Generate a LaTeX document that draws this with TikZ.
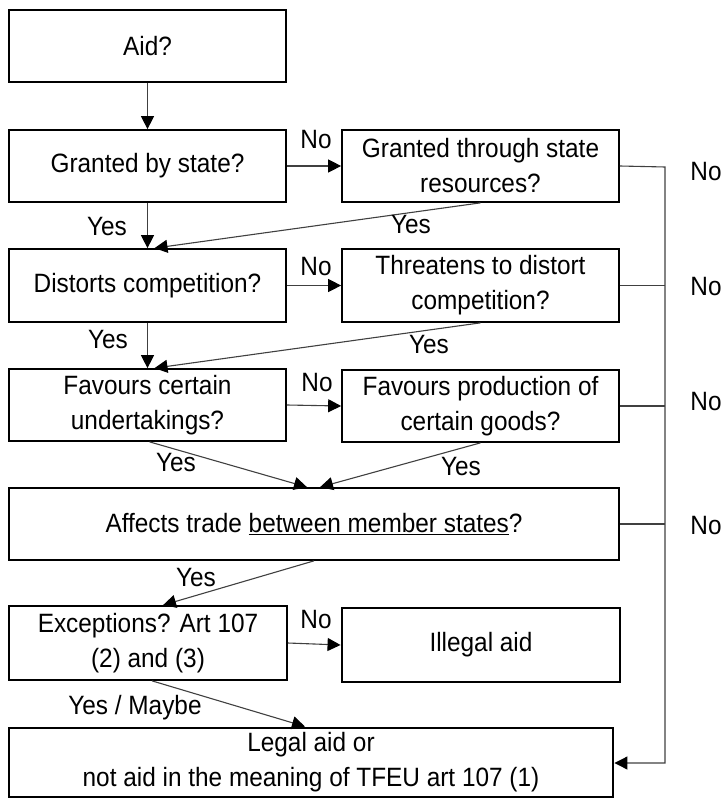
\documentclass[tikz,border=0pt]{standalone}
\usepackage{fontspec}
\setmainfont[FakeStretch=0.92]{Liberation Sans}
\usetikzlibrary{arrows.meta,calc}
\begin{document}
\begin{tikzpicture}[x=1pt,y=-1pt,
  every node/.style={font=\fontsize{26.5}{35}\selectfont},
  box/.style={draw=black,line width=1.7pt,rectangle,inner sep=0pt,align=center,minimum width=277pt,minimum height=72pt},
  thickbox/.style={box,line width=2.9pt},
  conn/.style={draw=black!75,line width=1.1pt,-{Triangle[length=13pt,width=13pt,color=black]}},
  plain/.style={draw=black!75,line width=1.1pt},
  lbl/.style={inner sep=0pt}]
\useasboundingbox (0,0) rectangle (724,799);
% boxes
\node[box] (aid) at (147.5,46) {Aid?};
\node[box] (gs) at (147.5,166) {Granted by state?};
\node[box] (gr) at (480.5,166) {Granted through state\\resources?};
\node[box,minimum height=73pt] (dc) at (147.5,285.5) {Distorts competition?};
\node[box,minimum height=73pt] (tc) at (480.5,285.5) {Threatens to distort\\competition?};
\node[box] (fu) at (147.5,405) {Favours certain\\undertakings?};
\node[box] (fp) at (480.5,406) {Favours production of\\certain goods?};
\node[box,minimum width=610pt] (at) at (314,524) {Affects trade \underline{between member states}?};
\node[box,minimum width=278pt,minimum height=74pt] (ex) at (148,643) {Exceptions? Art 107\\(2) and (3)};
\node[thickbox,minimum width=278pt,minimum height=74pt] (il) at (481,645) {Illegal aid};
\node[thickbox,minimum width=604pt,minimum height=69pt] (la) at (311,762.5) {Legal aid or\\not aid in the meaning of TFEU art 107 (1)};
% bus coordinates
\coordinate (busT) at (665,167);
\coordinate (busB) at (665,763);
% vertical flow
\draw[conn] (aid) -- (gs);
\draw[conn] (gs) -- (dc);
\draw[conn] (dc) -- (fu);
% No arrows
\draw[conn] (gs.east) -- (gr.west);
\draw[conn] (dc.east) -- (tc.west);
\draw[conn] (fu.east) -- (fp.west);
\draw[conn] (ex.east) -- (il.west);
% diagonal Yes arrows
\draw[conn] (gr.south) -- ([xshift=7pt]dc.north);
\draw[conn] (tc.south) -- ([xshift=7pt]fu.north);
\draw[conn] ([xshift=2pt]fu.south) -- ([xshift=-7pt]at.north);
\draw[conn] (fp.south) -- ([xshift=6pt]at.north);
\draw[conn] (at.south) -- ([xshift=15pt]ex.north);
\draw[conn] ([xshift=4pt]ex.south) -- ([xshift=-6pt]la.north);
% right bus
\draw[conn] (gr.east) -- (busT) -- (busB) -- (la.east |- busB);
\draw[plain] (tc.east) -- (tc.east -| busT);
\draw[plain] (fp.east) -- (fp.east -| busT);
\draw[plain] (at.east) -- (at.east -| busT);
% labels
\node[lbl] (l1) at (316,140) {No};
\node[lbl] (l2) at (316,267) {No};
\node[lbl] (l3) at (317,383) {No};
\node[lbl] (l4) at (316,620) {No};
\node[lbl] (r1) at (706,172) {No};
\node[lbl] (r2) at (706,287) {No};
\node[lbl] (r3) at (706,402) {No};
\node[lbl] (r4) at (706,526) {No};
\node[lbl] (y1) at (107,227) {Yes};
\node[lbl] (y2) at (411,225) {Yes};
\node[lbl] (y3) at (108,340) {Yes};
\node[lbl] (y4) at (429,345) {Yes};
\node[lbl] (y5) at (176,463) {Yes};
\node[lbl] (y6) at (461,467) {Yes};
\node[lbl] (y7) at (196,578) {Yes};
\node[lbl] (y8) at (135,708) {Yes / Maybe};
\end{tikzpicture}
\end{document}
